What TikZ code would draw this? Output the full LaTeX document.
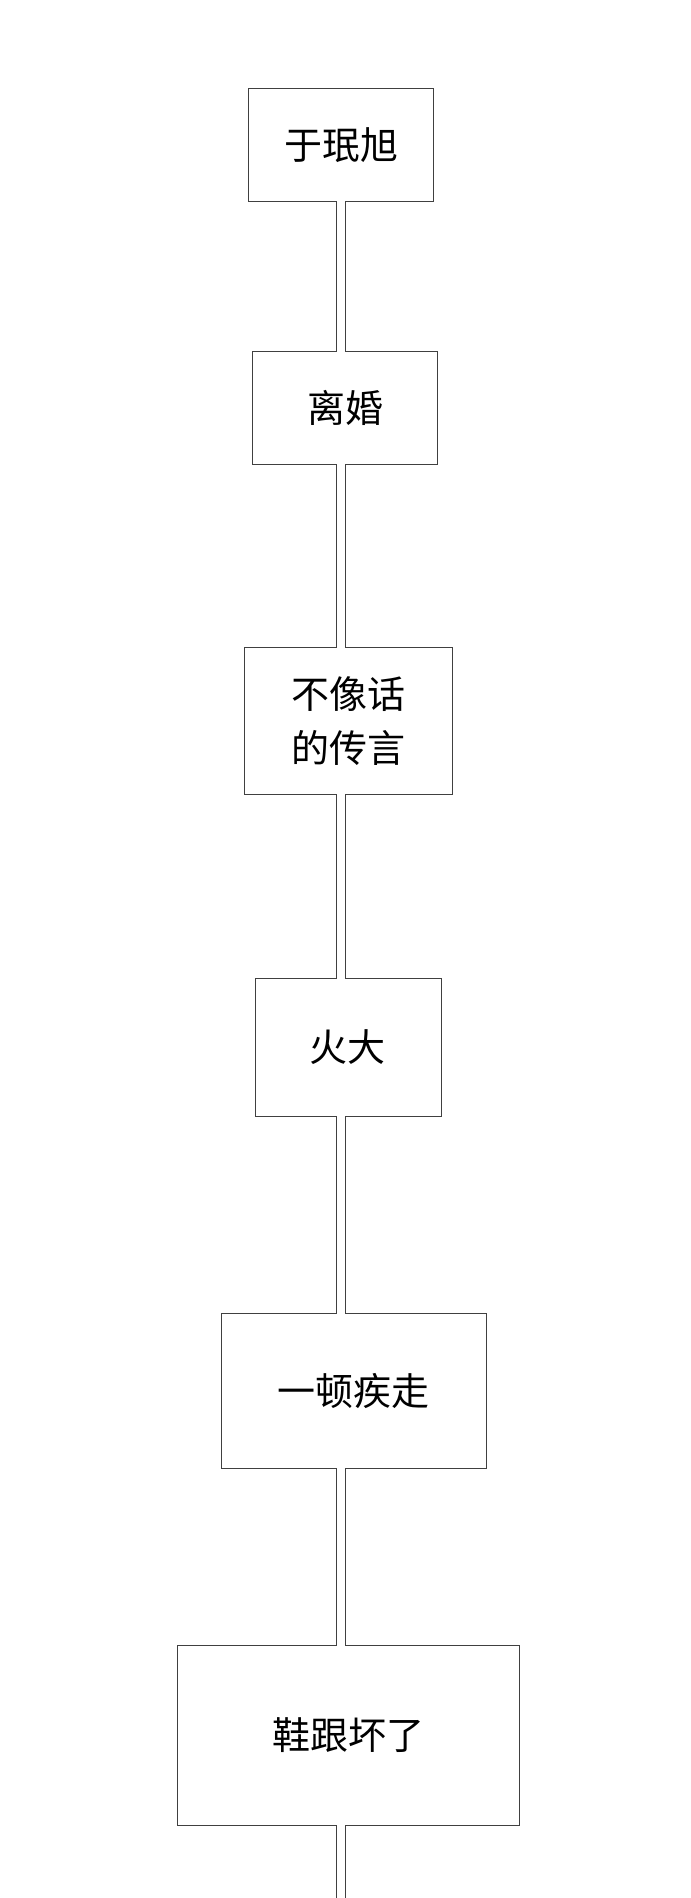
\documentclass[tikz,border=0pt]{standalone}
\usepackage{fontspec}
\setmainfont{Noto Sans CJK SC}
\usetikzlibrary{positioning}

\begin{document}
\begin{tikzpicture}[x=0.75pt, y=-0.75pt,
  box/.style={draw=black!75, line width=0.6pt, fill=white, inner sep=0pt,
    align=center, font=\fontsize{28.5}{40}\selectfont},
  cut/.style={draw=white, line width=6pt},
  rail/.style={draw=black!75, line width=0.6pt}]
  \useasboundingbox (0,0) rectangle (690,1898);
  \coordinate (axis) at (341.1,0);
  \coordinate (axl) at (336.6,0);
  \coordinate (axr) at (345.6,0);
  \coordinate (tail) at (341.1,1898);
  \coordinate (taill) at (336.6,1898);
  \coordinate (tailr) at (345.6,1898);
  \node[box, minimum width=185pt*0.75, minimum height=113pt*0.75] (s1) at (341.2,144.7) {于珉旭};
  \node[box, minimum width=185pt*0.75, minimum height=113pt*0.75] (s2) at (345.2,407.7) {离婚};
  \node[box, minimum width=208pt*0.75, minimum height=147pt*0.75] (s3) at (348.5,721) {不像话\\的传言};
  \node[box, minimum width=186pt*0.75, minimum height=138pt*0.75] (s4) at (347.9,1046.9) {火大};
  \node[box, minimum width=265pt*0.75, minimum height=155pt*0.75] (s5) at (353.5,1391) {一顿疾走};
  \node[box, minimum width=342pt*0.75, minimum height=180pt*0.75] (s6) at (348.5,1735.5) {鞋跟坏了};
  % open the box edges where the pipe goes in
  \path[cut]
  ([yshift=1pt]s1.south -| axis) edge ([yshift=-1pt]s2.north -| axis)
  ([yshift=1pt]s2.south -| axis) edge ([yshift=-1pt]s3.north -| axis)
  ([yshift=1pt]s3.south -| axis) edge ([yshift=-1pt]s4.north -| axis)
  ([yshift=1pt]s4.south -| axis) edge ([yshift=-1pt]s5.north -| axis)
  ([yshift=1pt]s5.south -| axis) edge ([yshift=-1pt]s6.north -| axis)
  ([yshift=1pt]s6.south -| axis) edge (tail)
;
  \path[rail]
  (s1.south -| axl) edge (s2.north -| axl)
  (s1.south -| axr) edge (s2.north -| axr)
  (s2.south -| axl) edge (s3.north -| axl)
  (s2.south -| axr) edge (s3.north -| axr)
  (s3.south -| axl) edge (s4.north -| axl)
  (s3.south -| axr) edge (s4.north -| axr)
  (s4.south -| axl) edge (s5.north -| axl)
  (s4.south -| axr) edge (s5.north -| axr)
  (s5.south -| axl) edge (s6.north -| axl)
  (s5.south -| axr) edge (s6.north -| axr)
  (s6.south -| axl) edge (taill)
  (s6.south -| axr) edge (tailr)
;
\end{tikzpicture}
\end{document}
